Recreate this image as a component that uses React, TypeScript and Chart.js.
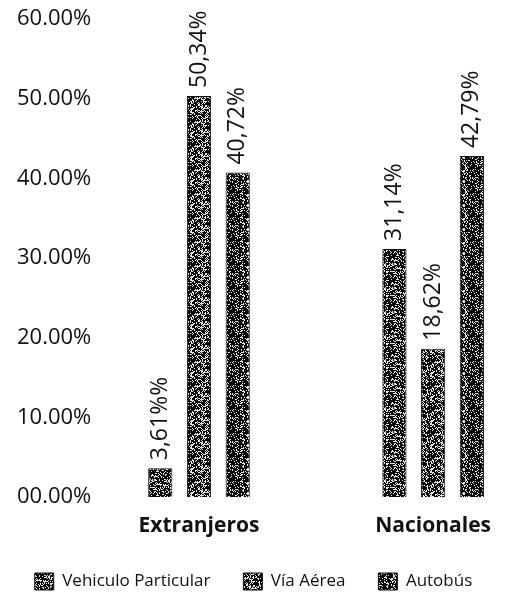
import React, { useEffect, useRef } from "react";
import { Chart, registerables } from "chart.js";

Chart.register(...registerables);

const categories = ["Extranjeros", "Nacionales"];
const seriesNames = ["Vehiculo Particular", "Vía Aérea", "Autobús"];
const vehiculoParticular = [3.61, 31.14];
const viaAerea = [50.34, 18.62];
const autobus = [40.72, 42.79];
const vehiculoLabels = ["3,61%%", "31,14%"];
const viaAereaLabels = ["50,34%", "18,62%"];
const autobusLabels = ["40,72%", "42,79%"];
const yTickValues = [0, 10, 20, 30, 40, 50, 60];
const yTickLabels = ["00.00%", "10.00%", "20.00%", "30.00%", "40.00%", "50.00%", "60.00%"];

const FONT = '"Open Sans", "Noto Sans", sans-serif';

// texture styling: share of light speckles per series
const speckleDensity = [0.3, 0.36, 0.27];
const speckleSeed = [3, 11, 23];

function hash(x: number, y: number, s: number): number {
  let h = (x * 374761393 + y * 668265263 + s * 2147483647) | 0;
  h = (h ^ (h >>> 13)) * 1274126177;
  h = h ^ (h >>> 16);
  return ((h >>> 0) % 1000) / 1000;
}

function makePattern(density: number, seed: number): CanvasPattern | string {
  const size = 24;
  const c = document.createElement("canvas");
  c.width = size;
  c.height = size;
  const g = c.getContext("2d");
  if (!g) return "#333";
  g.fillStyle = "#080808";
  g.fillRect(0, 0, size, size);
  g.fillStyle = "#e6e6e6";
  for (let y = 0; y < size; y++) {
    for (let x = 0; x < size; x++) {
      if (hash(x, y, seed) < density) g.fillRect(x, y, 1, 1);
    }
  }
  const p = g.createPattern(c, "repeat");
  return p || "#333";
}

export default function App() {
  const ref = useRef<HTMLCanvasElement | null>(null);

  useEffect(() => {
    document.body.style.margin = "0";
    const canvas = ref.current;
    if (!canvas) return;
    const labelSets = [vehiculoLabels, viaAereaLabels, autobusLabels];

    const barLabels = {
      id: "barLabels",
      afterDatasetsDraw(chart: any) {
        const ctx = chart.ctx;
        chart.data.datasets.forEach((_ds: any, di: number) => {
          const meta = chart.getDatasetMeta(di);
          meta.data.forEach((el: any, i: number) => {
            const { x, y } = el.getProps(["x", "y"], true);
            ctx.save();
            ctx.translate(x, y - 8);
            ctx.rotate(-Math.PI / 2);
            ctx.font = `23px ${FONT}`;
            ctx.fillStyle = "#111";
            ctx.textAlign = "left";
            ctx.textBaseline = "middle";
            ctx.fillText(labelSets[di][i], 0, 0);
            ctx.restore();
          });
        });
      },
    };

    const values = [vehiculoParticular, viaAerea, autobus];
    const spacer = (w: number) => ({
      display: true,
      grid: { display: false, drawTicks: false },
      border: { display: false },
      ticks: { display: false },
      afterFit(scale: any) {
        scale.width = w;
      },
    });

    const chart = new Chart(canvas, {
      type: "bar",
      data: {
        labels: categories,
        datasets: seriesNames.map((name, i) => ({
          label: name,
          data: values[i],
          backgroundColor: makePattern(speckleDensity[i], speckleSeed[i]) as any,
          borderColor: "#111",
          borderWidth: 1,
          categoryPercentage: 0.496,
          barPercentage: 0.625,
          clip: false as any,
        })),
      },
      options: {
        responsive: false,
        animation: false,
        devicePixelRatio: 1,
        layout: { padding: { top: 19, left: 0, right: 0, bottom: 0 } },
        plugins: {
          tooltip: { enabled: false },
          legend: {
            position: "bottom",
            labels: {
              boxWidth: 19,
              boxHeight: 17,
              padding: 33,
              color: "#111",
              font: { family: FONT, size: 17 },
            },
          },
        },
        scales: {
          x: {
            offset: false,
            grid: { display: false, drawTicks: false },
            border: { display: false },
            ticks: {
              padding: 16,
              color: "#111",
              font: { family: FONT, size: 21, weight: "bold" },
            },
            afterFit(scale: any) {
              scale.height = 43;
            },
          },
          y: {
            min: 0,
            max: 60,
            grid: { display: false, drawTicks: false },
            border: { display: false },
            ticks: {
              stepSize: 10,
              padding: 4,
              crossAlign: "far",
              color: "#111",
              font: { family: FONT, size: 22 },
              callback: (v: any) => {
                const idx = yTickValues.indexOf(Number(v));
                return idx >= 0 ? yTickLabels[idx] : "";
              },
            },
            afterFit(scale: any) {
              scale.width = 182;
            },
          },
          yPad: { position: "left", weight: 1, ...spacer(17) } as any,
          yRight: { position: "right", ...spacer(66) } as any,
        },
      },
      plugins: [barLabels],
    });

    return () => chart.destroy();
  }, []);

  return (
    <div style={{ width: 507, height: 594, overflow: "hidden", position: "relative", background: "#fff" }}>
      <canvas ref={ref} width={507} height={600} style={{ display: "block", width: 507, height: 600 }} />
    </div>
  );
}
